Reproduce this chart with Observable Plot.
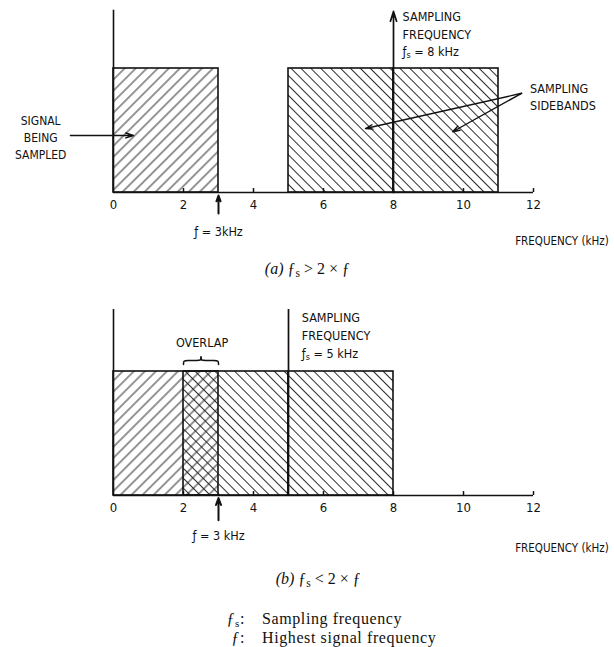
<!DOCTYPE html>
<html>
<head>
<meta charset="utf-8">
<script src="https://cdn.jsdelivr.net/npm/d3@7"></script>
<script src="https://cdn.jsdelivr.net/npm/@observablehq/plot@0.6"></script>
<style>
  body { margin: 0; background: #fff; }
  #root { width: 614px; height: 647px; position: relative; overflow: hidden; }
  #root svg { display: block; }
  .legend { font-family: "Liberation Serif", "DejaVu Serif", serif; font-size: 16px; letter-spacing: 0.6px;
    display: grid; grid-template-columns: 245px auto; column-gap: 17px; line-height: 18px; padding-top: 10px; color: #111; }
  .legend .k { text-align: right; }
  .legend .s { font-size: 11px; position: relative; top: 3px; }
</style>
</head>
<body>
<div id="root"></div>
<script>
// ---------- data (frequencies in kHz, relative amplitude) ----------
const freqTicks = [0, 2, 4, 6, 8, 10, 12];
const freqAxisEnd = 12;
const bandAmplitude = 1;
const highestSignalFreq = 3;

// panel (a): fs = 8 kHz
const aSignalBand = [[0, 3]];
const aSidebands = [[5, 8], [8, 11]];
const aSamplingFreq = 8;

// panel (b): fs = 5 kHz
const bSignalBand = [[0, 3]];
const bSidebands = [[2, 5], [5, 8]];
const bSamplingFreq = 5;
const bOverlap = [2, 3];

// texts
const txtSignal = "SIGNAL\nBEING\nSAMPLED";
const txtSidebands = "SAMPLING\nSIDEBANDS";
const txtSamplingA = "SAMPLING\nFREQUENCY\n\u0192_s = 8 kHz";
const txtSamplingB = "SAMPLING\nFREQUENCY\n\u0192_s = 5 kHz";
const txtFA = "\u0192 = 3kHz";
const txtFB = "\u0192 = 3 kHz";
const txtAxis = "FREQUENCY (kHz)";
const txtOverlap = "OVERLAP";
const txtCaptionA = "*(a)* \u0192_s > 2 \u00d7 \u0192";
const txtCaptionB = "*(b)* \u0192_s < 2 \u00d7 \u0192";

// ---------- helpers ----------
const SANS = "'DejaVu Sans Condensed', 'DejaVu Sans', sans-serif";
const SERIF = "'Liberation Serif', 'DejaVu Serif', serif";

function addPatterns(svg, p) {
  const defs = d3.select(svg).insert("defs", ":first-child");
  const mk = (id, angle, size, w) => {
    defs.append("pattern").attr("id", p + id).attr("patternUnits", "userSpaceOnUse")
      .attr("width", size).attr("height", size).attr("patternTransform", `rotate(${angle})`)
      .append("line").attr("x1", size / 2).attr("y1", 0).attr("x2", size / 2).attr("y2", size)
      .attr("stroke", "#222").attr("stroke-width", w);
  };
  mk("fwd", 45, 7.8, 0.95);
  mk("back", -45, 7.0, 0.95);
}

function richText(svg) {
  d3.select(svg).selectAll("text, tspan").each(function () {
    if (this.childElementCount) return;
    const s = this.textContent;
    if (!/_s|\*/.test(s)) return;
    const parts = s.split(/(_s|\*[^*]*\*)/).filter(d => d !== "");
    this.textContent = "";
    const sel = d3.select(this);
    for (const part of parts) {
      if (part === "_s") sel.append("tspan").attr("font-size", "72%").attr("baseline-shift", "-22%").text("s");
      else if (part.startsWith("*")) sel.append("tspan").attr("font-style", "italic").text(part.slice(1, -1));
      else sel.append("tspan").text(part);
    }
  });
}

function bandRects(bands, fill) {
  return Plot.rect(bands, {x1: d => d[0], x2: d => d[1], y1: 0, y2: bandAmplitude,
    fill, stroke: "#111", strokeWidth: 1.6});
}

function axes(yTop) {
  return [
    Plot.ruleY([0], {x1: 0, x2: freqAxisEnd, stroke: "#111", strokeWidth: 1.6}),
    Plot.ruleX([0], {y1: 0, y2: yTop, stroke: "#111", strokeWidth: 1.6}),
    Plot.ruleX(freqTicks.filter(d => d > 0), {y1: 0, y2: 0.032, stroke: "#111", strokeWidth: 1.5}),
    Plot.axisX(freqTicks, {label: null, tickSize: 0, tickPadding: 7, fontSize: 13, fontFamily: SANS, fill: "#111"})
  ];
}

const common = {
  width: 614, marginLeft: 113, marginRight: 81,
  x: {domain: [0, 12], axis: null, label: null},
  y: {domain: [0, 1.5], axis: null, label: null},
  style: {fontFamily: SANS, fontSize: "12.5px", color: "#111", background: "#fff"}
};

// ---------- panel (a) ----------
const plotA = Plot.plot({
  ...common, height: 290, marginTop: 6, marginBottom: 98,
  marks: [
    bandRects(aSignalBand, "url(#Afwd)"),
    bandRects(aSidebands, "url(#Aback)"),
    ...axes(1.47),
    Plot.arrow([aSamplingFreq], {x1: d => d, x2: d => d, y1: 0, y2: 1.46, stroke: "#111", strokeWidth: 1.7, headLength: 9, headAngle: 35}),
    Plot.arrow([highestSignalFreq], {x1: d => d, x2: d => d, y1: -0.17, y2: -0.025, stroke: "#111", strokeWidth: 2, headLength: 8, headAngle: 40}),
    Plot.text([txtSamplingA], {x: 8.26, y: 1.285, text: d => d, textAnchor: "start", lineHeight: 1.38, fontSize: 12.5}),
    Plot.text([txtSignal], {x: -2.08, y: 0.452, text: d => d, textAnchor: "middle", lineHeight: 1.45, fontSize: 12}),
    Plot.arrow([0], {x1: -1.23, x2: 0.57, y1: 0.46, y2: 0.46, stroke: "#111", strokeWidth: 1.5, headLength: 8, headAngle: 35}),
    Plot.text([txtSidebands], {x: 11.9, y: 0.775, text: d => d, textAnchor: "start", lineHeight: 1.3, fontSize: 12.5}),
    Plot.arrow([[7.2, 0.516], [9.69, 0.49]], {x1: 11.66, y1: 0.80, x2: d => d[0], y2: d => d[1], stroke: "#111", strokeWidth: 1.4, headLength: 8, headAngle: 35}),
    Plot.text([txtFA], {x: highestSignalFreq, y: -0.32, text: d => d, fontSize: 12.5}),
    Plot.text([txtAxis], {x: 14.15, y: -0.39, text: d => d, textAnchor: "end", fontSize: 11.5}),
    Plot.text([txtCaptionA], {x: 5.54, y: -0.613, text: d => d, fontFamily: SERIF, fontSize: 16})
  ]
});

// ---------- panel (b) ----------
const braceY = 1.056, braceH = 0.06;
const bm = (bOverlap[0] + bOverlap[1]) / 2;
const braceHalf = (xe, s) => [
  [xe, braceY], [xe, braceY + braceH * 0.55], [xe + s * 0.1, braceY + braceH * 0.55],
  [bm - s * 0.1, braceY + braceH * 0.55], [bm, braceY + braceH * 0.55], [bm, braceY + braceH]
].map(([x, y]) => ({x, y, side: s}));
const bracePts = [...braceHalf(bOverlap[0], 1), ...braceHalf(bOverlap[1], -1)];

const plotB = Plot.plot({
  ...common, height: 310, marginTop: 19, marginBottom: 105,
  marks: [
    bandRects(bSignalBand, "url(#Bfwd)"),
    bandRects(bSidebands, "url(#Bback)"),
    ...axes(1.5),
    Plot.ruleX([bSamplingFreq], {y1: 0, y2: 1.5, stroke: "#111", strokeWidth: 1.7}),
    Plot.arrow([highestSignalFreq], {x1: d => d, x2: d => d, y1: -0.2, y2: -0.02, stroke: "#111", strokeWidth: 2, headLength: 8, headAngle: 40}),
    Plot.text([txtSamplingB], {x: 5.38, y: 1.3, text: d => d, textAnchor: "start", lineHeight: 1.45, fontSize: 12.5}),
    Plot.text([txtOverlap], {x: 2.53, y: 1.226, text: d => d, fontSize: 12.5}),
    Plot.line(bracePts, {x: "x", y: "y", z: "side", curve: "basis", stroke: "#111", strokeWidth: 1.5}),
    Plot.text([txtFB], {x: highestSignalFreq, y: -0.33, text: d => d, fontSize: 12.5}),
    Plot.text([txtAxis], {x: 14.15, y: -0.427, text: d => d, textAnchor: "end", fontSize: 11.5}),
    Plot.text([txtCaptionB], {x: 5.85, y: -0.669, text: d => d, fontFamily: SERIF, fontSize: 16})
  ]
});

addPatterns(plotA, "A");
addPatterns(plotB, "B");
richText(plotA);
richText(plotB);

const root = document.getElementById("root");
root.append(plotA, plotB);

const legend = document.createElement("div");
legend.className = "legend";
legend.innerHTML =
  '<div class="k"><i>\u0192</i><span class="s">s</span>:</div><div>Sampling frequency</div>' +
  '<div class="k"><i>\u0192</i>:</div><div>Highest signal frequency</div>';
root.append(legend);
</script>
</body>
</html>
